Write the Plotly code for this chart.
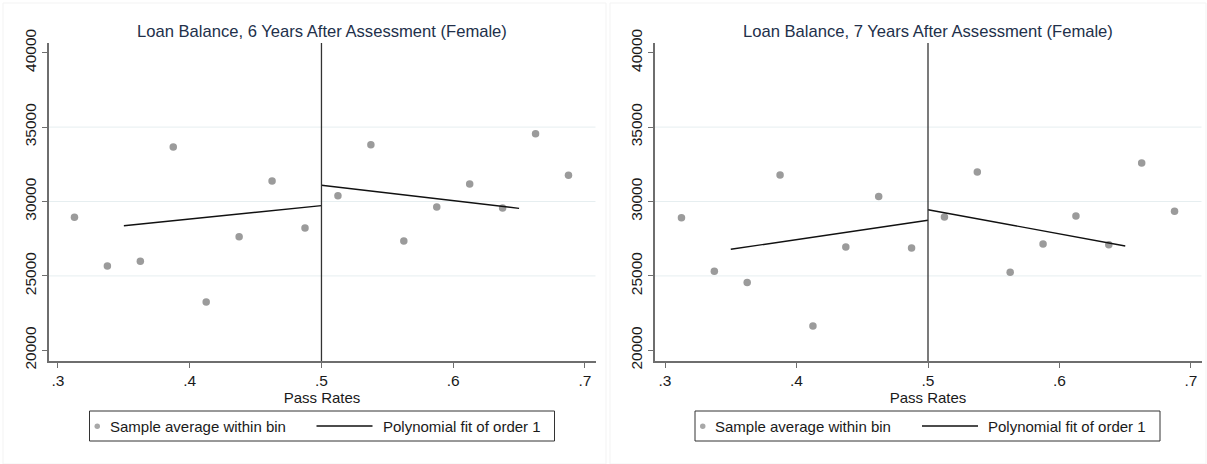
import plotly.graph_objects as go

# Bin centres of the running variable (pass rate)
bin_centers = [0.3125, 0.3375, 0.3625, 0.3875, 0.4125, 0.4375, 0.4625, 0.4875,
               0.5125, 0.5375, 0.5625, 0.5875, 0.6125, 0.6375, 0.6625, 0.6875]

# Sample averages of loan balance within each bin
loan_6yr = [28940, 25670, 25980, 33660, 23250, 27630, 31380, 28220,
            30390, 33820, 27350, 29630, 31180, 29560, 34560, 31760]
loan_7yr = [28910, 25310, 24550, 31780, 21630, 26940, 30330, 26880,
            28960, 31980, 25240, 27140, 29030, 27100, 32590, 29340]

# Linear fits on each side of the cutoff
cutoff = 0.5
fit_left_x = [0.35, 0.5]
fit_right_x = [0.5, 0.65]
fit6_left_y = [28375, 29720]
fit6_right_y = [31090, 29540]
fit7_left_y = [26790, 28740]
fit7_right_y = [29450, 27010]

titles = ["Loan Balance, 6 Years After Assessment (Female)",
          "Loan Balance, 7 Years After Assessment (Female)"]
legend_labels = ["Sample average within bin", "Polynomial fit of order 1"]
x_ticks = [0.3, 0.4, 0.5, 0.6, 0.7]
x_tick_text = [".3", ".4", ".5", ".6", ".7"]
y_ticks = [20000, 25000, 30000, 35000, 40000]
y_tick_text = ["20000", "25000", "30000", "35000", "40000"]
grid_values = [25000, 30000, 35000]

W, H = 1207, 464
FONT = "Liberation Sans, Arial, sans-serif"
DOT = "#9b9b9b"
AXIS = "#6e6e6e"
TEXT = "#1a1a1a"
TITLE_C = "#22304a"


def px(v):
    return v / W


def py(v):
    return (H - v) / H


fig = go.Figure()

panels = [
    dict(x="x", y="y", ax="xaxis", ay="yaxis",
         ys=loan_6yr, fl=fit6_left_y, fr=fit6_right_y,
         dom=[48.5, 595.5], xr=[0.2928, 0.7080], leg=89.5),
    dict(x="x2", y="y2", ax="xaxis2", ay="yaxis2",
         ys=loan_7yr, fl=fit7_left_y, fr=fit7_right_y,
         dom=[654.5, 1201.5], xr=[0.2920, 0.7080], leg=695),
]

y_dom = [py(361), py(43)]

for i, p in enumerate(panels):
    # binned means
    fig.add_trace(go.Scatter(
        x=bin_centers, y=p["ys"], mode="markers", xaxis=p["x"], yaxis=p["y"],
        marker=dict(color=DOT, size=7.5, line=dict(width=0)),
        showlegend=False, hoverinfo="skip"))
    # linear fits
    fig.add_trace(go.Scatter(
        x=fit_left_x, y=p["fl"], mode="lines", xaxis=p["x"], yaxis=p["y"],
        line=dict(color="#111111", width=1.4), showlegend=False))
    fig.add_trace(go.Scatter(
        x=fit_right_x, y=p["fr"], mode="lines", xaxis=p["x"], yaxis=p["y"],
        line=dict(color="#111111", width=1.4), showlegend=False))

    xd = [px(p["dom"][0]), px(p["dom"][1])]
    axis_common = dict(
        zeroline=False, showgrid=False, automargin=False,
        showline=True, linecolor=AXIS, linewidth=1.5,
        ticks="outside", ticklen=5, tickcolor=AXIS, tickwidth=1.2,
        tickfont=dict(family=FONT, size=15.5, color=TEXT))
    fig.update_layout(**{
        p["ax"]: dict(
            domain=xd, range=p["xr"],
            tickvals=x_ticks, ticktext=x_tick_text,
            title=dict(text="Pass Rates", standoff=2,
                       font=dict(family=FONT, size=15, color=TEXT)),
            anchor=p["y"], **axis_common),
        p["ay"]: dict(
            domain=y_dom, range=[19283, 40650],
            tickvals=y_ticks, ticktext=y_tick_text, tickangle=-90,
            anchor=p["x"], **axis_common),
    })

    # panel title
    fig.add_annotation(
        text=titles[i], xref="paper", yref="paper",
        x=(xd[0] + xd[1]) / 2, y=py(31.5), xanchor="center", yanchor="middle",
        showarrow=False, font=dict(family=FONT, size=16.6, color=TITLE_C))

    # horizontal grid lines
    for gv in grid_values:
        fig.add_shape(type="line", xref=f"{p['x']} domain", yref=p["y"],
                      x0=0, x1=1, y0=gv, y1=gv,
                      line=dict(color="#e6eef0", width=1), layer="below")

    # cutoff line
    fig.add_shape(type="line", xref=p["x"], yref=f"{p['y']} domain",
                  x0=cutoff, x1=cutoff, y0=0, y1=1,
                  line=dict(color="#333333", width=1.3))

    # legend box below the panel
    L = p["leg"]
    fig.add_shape(type="rect", xref="paper", yref="paper",
                  x0=px(L), x1=px(L + 465), y0=py(441), y1=py(411),
                  line=dict(color="#333333", width=1), fillcolor="white")
    fig.add_shape(type="circle", xref="paper", yref="paper",
                  x0=px(L + 5), x1=px(L + 10.5), y0=py(429), y1=py(423.5),
                  line=dict(width=0), fillcolor="#a8a8a8")
    fig.add_shape(type="line", xref="paper", yref="paper",
                  x0=px(L + 227), x1=px(L + 283), y0=py(426), y1=py(426),
                  line=dict(color="#111111", width=1.3))
    fig.add_annotation(
        text=legend_labels[0], xref="paper", yref="paper",
        x=px(L + 18), y=py(426.5), xanchor="left", yanchor="middle",
        showarrow=False, font=dict(family=FONT, size=15, color=TEXT))
    fig.add_annotation(
        text=legend_labels[1], xref="paper", yref="paper",
        x=px(L + 291), y=py(426.5), xanchor="left", yanchor="middle",
        showarrow=False, font=dict(family=FONT, size=15, color=TEXT))

# faint panel frames
for x0, x1 in [(3, 606), (610, 1206)]:
    fig.add_shape(type="rect", xref="paper", yref="paper",
                  x0=px(x0), x1=px(x1), y0=0, y1=py(3),
                  line=dict(color="#f3f3f3", width=1), layer="below")

fig.update_layout(
    width=W, height=H, margin=dict(l=0, r=0, t=0, b=0),
    paper_bgcolor="white", plot_bgcolor="white", showlegend=False,
)

fig.write_html("out.html")
